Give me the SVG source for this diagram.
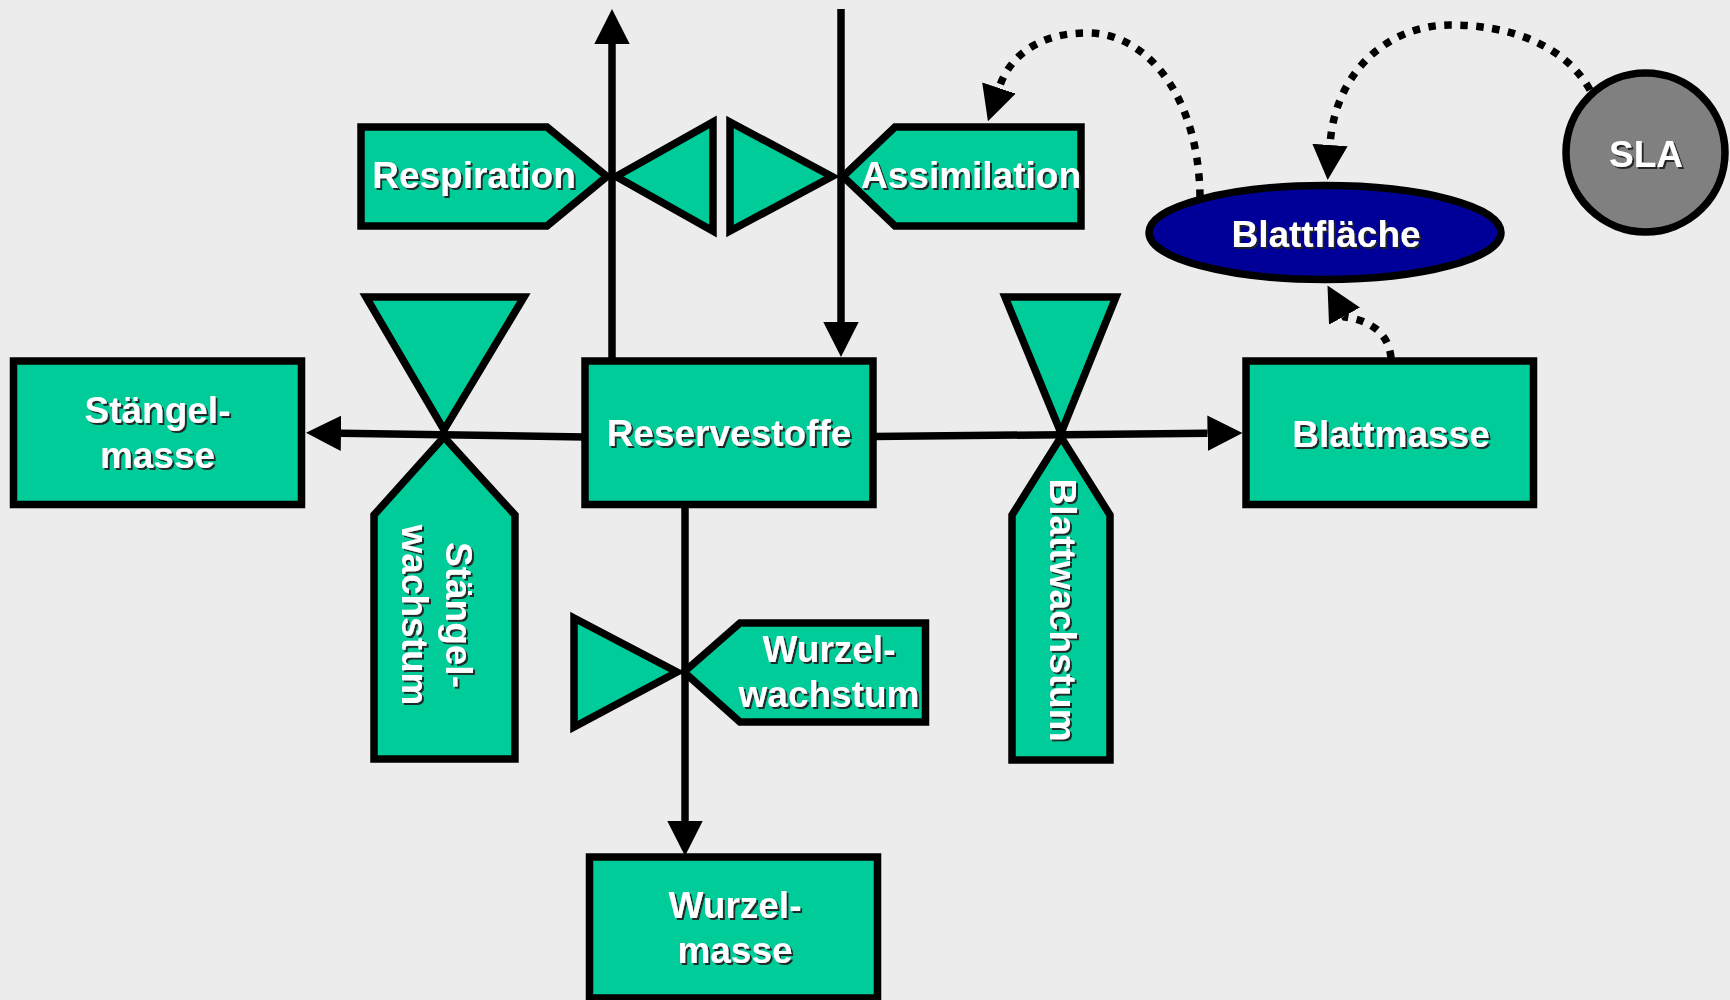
<svg xmlns="http://www.w3.org/2000/svg" width="1730" height="1000" viewBox="0 0 1730 1000">
<defs>
<style>
.bg{fill:#ececec}
.sh{fill:#00cc99;stroke:#000;stroke-width:7.5;stroke-linejoin:miter;stroke-miterlimit:12}
.t{font-family:"Liberation Sans",Arial,Helvetica,sans-serif;font-weight:bold;font-size:37px;fill:#fff;text-anchor:middle}
.lbl{filter:url(#ds)}
.flow{fill:none;stroke:#000;stroke-width:7.5;marker-end:url(#ah)}
.info{fill:none;stroke:#000;stroke-width:7.5;stroke-dasharray:7.5 8.5;marker-end:url(#ah)}
</style>
<filter id="ds" x="-10%" y="-10%" width="130%" height="140%">
<feDropShadow dx="2" dy="2" stdDeviation="0.6" flood-color="#222" flood-opacity="0.95"/>
</filter>
<marker id="ah" markerUnits="userSpaceOnUse" markerWidth="36" markerHeight="36" viewBox="0 -18 36 36" refX="0" refY="0" orient="auto">
<path d="M0,-17.7 L35,0 L0,17.7 z" fill="#000"/>
</marker>
</defs>
<rect class="bg" x="0" y="0" width="1730" height="1000"/>

<g id="respiration">
<polygon class="sh" points="361,127 547,127 607,176.5 547,226 361,226"/>
<g class="lbl"><text class="t" x="474" y="188">Respiration</text></g>
</g>
<g id="respiration-valve">
<polygon class="sh" points="616,176.5 713,122 713,231"/>
</g>
<g id="assimilation-valve">
<polygon class="sh" points="730,122 832,176.5 730,231"/>
</g>
<g id="assimilation">
<polygon class="sh" points="843,176.5 895,127 1081,127 1081,226 895,226"/>
<g class="lbl"><text class="t" x="971" y="188">Assimilation</text></g>
</g>

<g id="staengelmasse">
<rect class="sh" x="13.5" y="361" width="288" height="143.5"/>
<g class="lbl"><text class="t" x="157.5" y="423">Stängel-</text><text class="t" x="157.5" y="468">masse</text></g>
</g>
<g id="staengel-valve">
<polygon class="sh" points="366,297 524,297 444,430"/>
</g>
<g id="staengelwachstum">
<polygon class="sh" points="444,437 374,515 374,759 515,759 515,515"/>
<g class="lbl"><text class="t" transform="translate(446,615) rotate(90)">Stängel-<tspan x="0" dy="44">wachstum</tspan></text></g>
</g>

<g id="reservestoffe">
<rect class="sh" x="585" y="361" width="288" height="143.5"/>
<g class="lbl"><text class="t" x="729" y="446">Reservestoffe</text></g>
</g>

<g id="blatt-valve">
<polygon class="sh" points="1005,297 1116,297 1061,433"/>
</g>
<g id="blattwachstum">
<polygon class="sh" points="1061,437 1012,515 1012,760 1110,760 1110,515"/>
<g class="lbl"><text class="t" transform="translate(1050,610) rotate(90)">Blattwachstum</text></g>
</g>

<g id="blattmasse">
<rect class="sh" x="1246" y="361" width="287.5" height="143.5"/>
<g class="lbl"><text class="t" x="1391" y="447">Blattmasse</text></g>
</g>

<g id="blattflaeche">
<ellipse cx="1325" cy="232.5" rx="176" ry="47" fill="#000099" stroke="#000" stroke-width="7.5"/>
<g class="lbl"><text class="t" x="1326" y="247">Blattfläche</text></g>
</g>

<g id="sla">
<circle cx="1645.5" cy="152.5" r="79.5" fill="#808080" stroke="#000" stroke-width="7.5"/>
<g class="lbl"><text class="t" x="1646" y="167">SLA</text></g>
</g>

<g id="wurzel-valve">
<polygon class="sh" points="574,618 677,672 574,727"/>
</g>
<g id="wurzelwachstum">
<polygon class="sh" points="684,672 740,623 925.5,623 925.5,722 740,722"/>
<g class="lbl"><text class="t" x="829" y="662">Wurzel-</text><text class="t" x="829" y="707">wachstum</text></g>
</g>

<g id="wurzelmasse">
<rect class="sh" x="589.5" y="857" width="288" height="141"/>
<g class="lbl"><text class="t" x="735" y="918">Wurzel-</text><text class="t" x="735" y="963">masse</text></g>
</g>

<g id="connectors">
<path class="flow" d="M612,361 L612,44"/>
<path class="flow" d="M841,9 L841,322"/>
<path class="flow" d="M585,437 L341,433.3"/>
<path class="flow" d="M873,436.5 L1207.5,433.3"/>
<path class="flow" d="M685,504.5 L685,821"/>
<path class="info" d="M1200,197 C1199,100 1150,35 1090,33 C1040,32 1010,55 999,88"/>
<path class="info" d="M1590,90 C1565,45 1510,25 1450,25 C1390,25 1335,70 1330,145"/>
<path class="info" d="M1391,358 C1389,334 1372,321 1345,317 l-0.5,-0.9"/>
</g>
</svg>
